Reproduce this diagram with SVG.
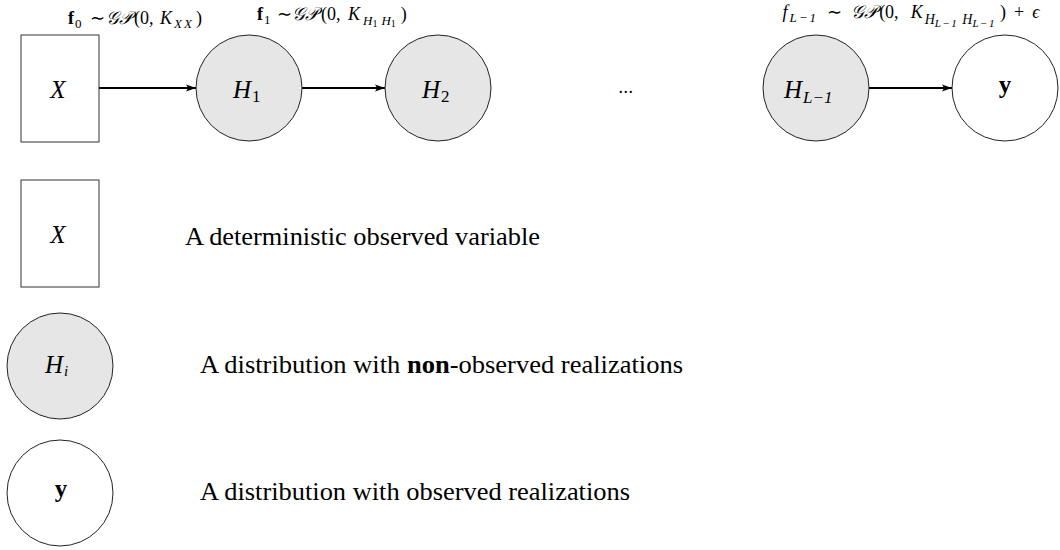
<svg xmlns="http://www.w3.org/2000/svg" width="1060" height="550" viewBox="0 0 1060 550">
<style>
.box{fill:#fff;stroke:#333;stroke-width:1}
.lat{fill:#e6e6e6;stroke:#222;stroke-width:1}
.obs{fill:#fff;stroke:#222;stroke-width:1}
.edge{stroke:#000;stroke-width:2;fill:none;marker-end:url(#ah)}
.m{font-family:"Liberation Serif",serif;font-style:italic;font-size:25px;fill:#000}
.lab{font-family:"Liberation Serif",serif;font-size:18px;fill:#000}
.s1{font-size:13px}
.s2{font-size:10px;letter-spacing:1px}
.t{font-family:"Liberation Serif",serif;font-size:25px;fill:#000}
.up{font-style:normal}
.b{font-weight:bold;font-style:normal}
.i{font-style:italic}
</style>
<defs>
<marker id="ah" markerWidth="10" markerHeight="8" refX="10" refY="4" orient="auto" markerUnits="userSpaceOnUse">
<path d="M0,0.6 L10,4 L0,7.4 L2.2,4 Z" fill="#000"/>
</marker>
</defs>
<g id="connectors">
<line class="edge" x1="99" y1="88" x2="196" y2="88"/>
<line class="edge" x1="302" y1="88" x2="385" y2="88"/>
<line class="edge" x1="869" y1="88" x2="952" y2="88"/>
</g>
<g id="labels">
<text class="lab"><tspan class="b" x="68" y="24">f</tspan><tspan class="s1" y="28" dx="1">0</tspan><tspan x="90" y="24">∼</tspan><tspan class="i" x="106" y="24">𝒢𝒫</tspan><tspan x="134" y="24">(0,</tspan><tspan class="i" x="160" y="24">K</tspan><tspan class="i s1" y="28" dx="2" letter-spacing="2">XX</tspan><tspan y="24" dx="2">)</tspan></text>
<text class="lab"><tspan class="b" x="257" y="20">f</tspan><tspan class="s1" y="24" dx="1">1</tspan><tspan x="277" y="20">∼</tspan><tspan class="i" x="292" y="20">𝒢𝒫</tspan><tspan x="321" y="20">(0,</tspan><tspan class="i" x="348" y="20">K</tspan><tspan class="i s1" y="25" dx="3">H</tspan><tspan class="s2" y="27">1</tspan><tspan class="i s1" y="25" dx="3">H</tspan><tspan class="s2" y="27">1</tspan><tspan y="20" dx="4">)</tspan></text>
<text class="lab" x="911" y="18" text-anchor="middle"><tspan class="i">f</tspan><tspan class="i s1" dy="4" dx="2" letter-spacing="2">L−1</tspan><tspan dy="-4" dx="9">∼</tspan><tspan class="i" dx="9">𝒢𝒫</tspan><tspan dx="2">(0,</tspan><tspan class="i" dx="12">K</tspan><tspan class="i" font-size="14" dy="6" dx="2">H</tspan><tspan class="i" font-size="11" letter-spacing="1.5" dy="3">L−1</tspan><tspan class="i" font-size="14" dy="-3" dx="4">H</tspan><tspan class="i" font-size="11" letter-spacing="1.5" dy="3">L−1</tspan><tspan dy="-9" dx="4">)</tspan><tspan dx="8">+</tspan><tspan class="i" dx="8">ϵ</tspan></text>
</g>
<g id="nodeX">
<rect class="box" x="21" y="35" width="78" height="107"/>
<text class="m" x="58" y="98" text-anchor="middle">X</text>
</g>
<g id="nodeH1">
<circle class="lat" cx="249" cy="88" r="53"/>
<text class="m"><tspan x="233" y="98">H</tspan><tspan class="up" y="102" font-size="17" dx="1">1</tspan></text>
</g>
<g id="nodeH2">
<circle class="lat" cx="438" cy="88" r="53"/>
<text class="m"><tspan x="422" y="98">H</tspan><tspan class="up" y="102" font-size="17" dx="1">2</tspan></text>
</g>
<g id="dots">
<text class="lab" x="626" y="93" text-anchor="middle" font-size="20" letter-spacing="0.5">...</text>
</g>
<g id="nodeHL1">
<circle class="lat" cx="816" cy="88" r="53"/>
<text class="m"><tspan x="784" y="98">H</tspan><tspan y="103" font-size="17" dx="1">L−1</tspan></text>
</g>
<g id="nodeY">
<circle class="obs" cx="1005" cy="88" r="53"/>
<text class="m b" x="1005" y="93" text-anchor="middle" font-size="23">y</text>
</g>
<g id="legendX">
<rect class="box" x="21" y="180" width="78" height="107"/>
<text class="m" x="58" y="243" text-anchor="middle">X</text>
<text class="t" x="185" y="245" textLength="355" lengthAdjust="spacingAndGlyphs">A deterministic observed variable</text>
</g>
<g id="legendH">
<circle class="lat" cx="60" cy="366" r="53"/>
<text class="m" font-size="21"><tspan x="45" y="373">H</tspan><tspan y="376" font-size="15" dx="1">i</tspan></text>
<text class="t" x="200" y="373" textLength="483" lengthAdjust="spacingAndGlyphs">A distribution with <tspan font-weight="bold">non</tspan>-observed realizations</text>
</g>
<g id="legendY">
<circle class="obs" cx="60" cy="493" r="53"/>
<text class="m b" x="61" y="497" text-anchor="middle" font-size="22">y</text>
<text class="t" x="200" y="500" textLength="430" lengthAdjust="spacingAndGlyphs">A distribution with observed realizations</text>
</g>
</svg>
